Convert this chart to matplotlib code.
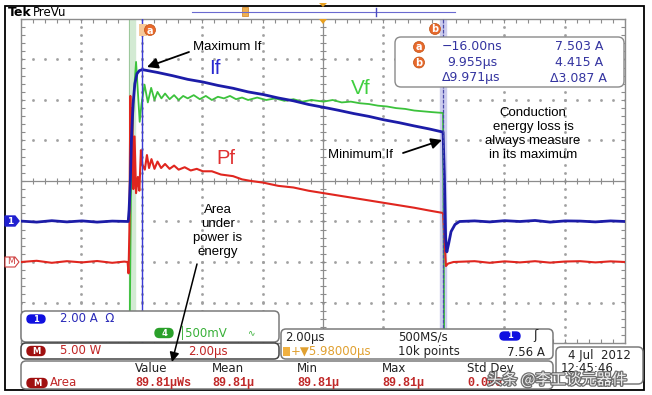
import matplotlib.pyplot as plt
import matplotlib.patheffects as pe
from matplotlib.patches import FancyBboxPatch, Rectangle, Polygon, Circle
from matplotlib.collections import LineCollection
import numpy as np

# scope settings
t_left, t_right = -4.02, 15.98          # µs, 2 µs/div, centre 5.98 µs
ch1_a_per_div, ch1_pos = 2.0, -1.0      # If, A/div, divisions
math_w_per_div, math_pos = 5.0, -2.0    # Pf, W/div
ch4_v_per_div, ch4_pos = 0.5, -1.2      # Vf, V/div
cursor_a_t, cursor_b_t = -0.016, 9.955

# ch1 : forward current If (A)
if_t = [-4.02, -3.5, -3.0, -2.5, -2.0, -1.5, -1.0, -0.47, -0.44, -0.40, -0.36, -0.31,
        -0.25, -0.18, -0.10, 0.0, 0.5, 1.0, 1.5, 2.0, 2.5, 3.0, 3.5, 4.0, 4.5, 5.0, 5.5,
        6.0, 6.5, 7.0, 7.5, 8.0, 8.5, 9.0, 9.5, 9.955, 10.00, 10.04, 10.08, 10.14, 10.22,
        10.35, 10.5, 11.0, 11.5, 12.0, 12.5, 13.0, 13.5, 14.0, 14.5, 15.0, 15.5, 15.98]
if_a = [0.02, -0.03, 0.04, -0.02, 0.03, -0.03, 0.02, 0.0, 0.6, 2.0, 4.2, 5.8,
        6.8, 7.3, 7.45, 7.50, 7.36, 7.20, 7.02, 6.89, 6.72, 6.58, 6.40, 6.27, 6.10, 5.96, 5.78,
        5.64, 5.49, 5.33, 5.19, 5.02, 4.88, 4.72, 4.57, 4.415, 2.2, -0.8, -1.5, -1.1, -0.5,
        -0.15, 0.0, 0.03, -0.02, 0.04, 0.0, 0.05, -0.03, 0.03, 0.02, -0.02, 0.03, 0.0]

# math : power Pf (W)
pf_t = [-4.02, -3.5, -3.0, -2.5, -2.0, -1.5, -1.0, -0.6, -0.49, -0.46, -0.43, -0.40, -0.37,
        -0.34, -0.30, -0.26, -0.21, -0.15, -0.10, -0.05, 0.0, 0.08, 0.15, 0.22, 0.30, 0.40,
        0.50, 0.62, 0.75, 0.90, 1.05, 1.2, 1.4, 1.6, 1.8, 2.0, 2.3, 2.6, 3.0, 3.3, 3.6, 4.0,
        4.5, 5.0, 5.5, 6.0, 6.5, 7.0, 7.5, 8.0, 8.5, 9.0, 9.5, 9.955, 10.00, 10.05, 10.12,
        10.3, 11.0, 11.5, 12.0, 12.5, 13.0, 13.5, 14.0, 14.5, 15.0, 15.5, 15.98]
pf_w = [0.0, 0.15, -0.1, 0.1, -0.05, 0.12, -0.1, 0.05, 0.0, -1.4, 4.0, 20.5, 12.0,
        19.0, 9.0, 15.5, 8.5, 10.5, 8.8, 13.8, 12.0, 11.4, 13.2, 11.6, 12.7, 11.5,
        12.4, 11.6, 12.1, 11.5, 11.9, 11.4, 11.7, 11.3, 11.5, 11.2, 11.2, 10.8, 10.6, 10.2, 10.0, 9.8,
        9.4, 9.2, 8.8, 8.5, 8.2, 7.9, 7.6, 7.3, 7.0, 6.7, 6.35, 6.05, 3.0, -0.5, -0.2,
        0.0, 0.1, -0.1, 0.08, -0.05, 0.1, -0.08, 0.06, 0.1, -0.05, 0.08, 0.0]

# ch4 : forward voltage Vf (V)
vf_t = [-4.02, -0.45, -0.42, -0.38, -0.33, -0.27, -0.21, -0.15, -0.09, -0.03, 0.07, 0.18,
        0.29, 0.40, 0.50, 0.63, 0.75, 0.9, 1.05, 1.2, 1.35, 1.5, 1.7, 1.9, 2.1, 2.3, 2.5,
        2.7, 2.9, 3.1, 3.3, 3.5, 3.8, 4.1, 4.4, 4.7, 5.0, 5.3, 5.6, 6.0, 6.3, 6.6, 6.9,
        7.2, 7.5, 7.8, 8.1, 8.4, 8.7, 9.0, 9.3, 9.6, 9.955, 10.0, 10.03, 15.98]
vf_v = [-6.0, -6.0, -1.2, 0.4, 1.2, 1.75, 2.07, 1.70, 1.33, 1.55, 1.79, 1.57,
        1.75, 1.60, 1.70, 1.62, 1.68, 1.61, 1.66, 1.60, 1.65, 1.62, 1.66, 1.61, 1.65, 1.60, 1.64,
        1.62, 1.65, 1.61, 1.63, 1.60, 1.63, 1.60, 1.62, 1.59, 1.61, 1.58, 1.60, 1.58, 1.60, 1.57, 1.58,
        1.56, 1.55, 1.53, 1.52, 1.50, 1.49, 1.47, 1.46, 1.45, 1.44, -2.0, -6.0, -6.0]

cursor_rows = [("a", "\u221216.00ns", "7.503 A"),
               ("b", "9.955\u00b5s", "4.415 A"),
               ("", "\u03949.971\u00b5s", "\u03943.087 A")]
meas_headers = ["Value", "Mean", "Min", "Max", "Std Dev"]
meas_values = ["89.81\u00b5Ws", "89.81\u00b5", "89.81\u00b5", "89.81\u00b5", "0.000"]

BLUE = "#1c1ca8"
RED = "#e0261f"
GREEN = "#3cc23c"
ORANGE = "#e8692c"
RO = "#3434a0"

fig = plt.figure(figsize=(6.52, 3.95), dpi=100)
W, H = 652, 395
gx0, gx1, gy0, gy1 = 21, 625, 19, 343
ax = fig.add_axes([gx0 / W, 1 - gy1 / H, (gx1 - gx0) / W, (gy1 - gy0) / H])
ax.set_xlim(t_left, t_right)
ax.set_ylim(-4, 4)
ax.set_xticks([])
ax.set_yticks([])
for s in ax.spines.values():
    s.set_color("#8c8c8c")
    s.set_linewidth(1.0)

# graticule
tc = (t_left + t_right) / 2
dots_y = np.arange(-4, 4.01, 0.2)
dots_x = np.arange(t_left, t_right + 0.01, 0.4)
for k in range(1, 10):
    if k != 5:
        ax.plot(np.full_like(dots_y, t_left + 2 * k), dots_y, ls="none", marker="s",
                ms=0.9, color="#a0a0a0", zorder=1)
for k in range(-3, 4):
    if k != 0:
        ax.plot(dots_x, np.full_like(dots_x, k), ls="none", marker="s",
                ms=0.9, color="#a0a0a0", zorder=1)
ax.axvline(tc, color="#8c8c8c", lw=0.9, zorder=1)
ax.axhline(0, color="#8c8c8c", lw=0.9, zorder=1)
segs = []
for x in dots_x:
    segs += [[(x, -0.08), (x, 0.08)], [(x, 4), (x, 3.9)], [(x, -4), (x, -3.9)]]
for y in dots_y:
    segs += [[(tc - 0.1, y), (tc + 0.1, y)], [(t_left, y), (t_left + 0.13, y)],
             [(t_right, y), (t_right - 0.13, y)]]
ax.add_collection(LineCollection(segs, colors="#8c8c8c", linewidths=0.8, zorder=1))

# edge band and cursors
ax.axvspan(-0.45, -0.26, color="#d3ead3", zorder=1.5)
ax.axvline(-0.45, color="#9cc79c", lw=0.7, zorder=1.6)
ax.axvspan(cursor_b_t - 0.1, cursor_b_t + 0.1, color="#cdcdee", zorder=1.5)
ax.axvline(cursor_a_t, color="#3b3bd6", lw=1.0, zorder=6)
ax.axvline(cursor_b_t, color="#4a4aa8", lw=0.9, ls=(0, (3, 1)), zorder=6)

# traces
ax.plot(vf_t, np.array(vf_v) / ch4_v_per_div + ch4_pos, color=GREEN, lw=1.3, zorder=3)
ax.plot(pf_t, np.array(pf_w) / math_w_per_div + math_pos, color=RED, lw=1.5, zorder=4)
ax.plot(if_t, np.array(if_a) / ch1_a_per_div + ch1_pos, color=BLUE, lw=2.0, zorder=5)

# overlay in pixel coordinates
ov = fig.add_axes([0, 0, 1, 1], zorder=10)
ov.set_xlim(0, W)
ov.set_ylim(H, 0)
ov.axis("off")
ov.patch.set_alpha(0)

ov.add_patch(Rectangle((5, 6), 639, 384, fill=False, ec="black", lw=1.3))
ov.text(8, 13, "Tek", fontsize=9, fontweight="bold", va="center")
ov.text(33, 12.5, "PreVu", fontsize=8.5, va="center")
ov.plot([192, 455], [12, 12], color="#6a6ad0", lw=0.8)
ov.add_patch(Rectangle((242, 7), 6, 9, fc="#f0b050", ec="#d08020", lw=0.5))
ov.plot([376, 376], [8, 16], color="#4a4ac0", lw=1)
ov.add_patch(Polygon([[319, 19], [327, 19], [323, 24]], fc="#e8a020", ec="none"))
ov.add_patch(Polygon([[319, 3], [327, 3], [323, 7]], fc="#e8a020", ec="none"))


def marker(x, y, lab):
    ov.add_patch(Circle((x, y), 5.5, fc=ORANGE, ec="#c05010", lw=0.5))
    ov.text(x, y + 0.5, lab, color="white", fontsize=7, fontweight="bold",
            ha="center", va="center")


ov.add_patch(Rectangle((139, 24), 8, 12, fc="#f6c89a", ec="none"))
marker(150, 30, "a")
marker(435, 29, "b")

# channel position markers
ov.add_patch(Polygon([[5, 216], [15, 216], [19, 221], [15, 226], [5, 226]],
                     fc="#2020d0", ec="#2020d0"))
ov.text(10, 221, "1", color="white", fontsize=6.5, ha="center", va="center", fontweight="bold")
ov.add_patch(Polygon([[5, 257], [15, 257], [19, 262], [15, 267], [5, 267]],
                     fc="white", ec="#d04040", lw=0.8))
ov.text(11, 262, "M", color="#d04040", fontsize=6.5, ha="center", va="center")

# annotations
arrow = dict(arrowstyle="-|>", mutation_scale=16, lw=1.3, color="black", shrinkA=0, shrinkB=0)
ov.text(193, 47, "Maximum If", fontsize=9.5, family="Liberation Sans", va="center")
ov.annotate("", xy=(147, 67), xytext=(189, 52), arrowprops=arrow)
ov.text(209, 68, "If", fontsize=15, color="#2a2ad0", family="Liberation Sans", va="center")
ov.text(351, 88, "Vf", fontsize=15, color="#3fcf3f", family="Liberation Sans", va="center")
ov.text(216, 159, "Pf", fontsize=14.5, color="#e03030", family="Liberation Sans", va="center")
ov.text(328, 155, "Minimum If", fontsize=9.5, family="Liberation Sans", va="center")
ov.annotate("", xy=(442, 140), xytext=(403, 153), arrowprops=arrow)
ov.text(533, 134, "Conduction\nenergy loss is\nalways measure\nin its maximum",
        fontsize=9.5, family="Liberation Sans", ha="center", va="center", linespacing=1.2)
ov.text(218, 231, "Area\nunder\npower is\nenergy",
        fontsize=9.5, family="Liberation Sans", ha="center", va="center", linespacing=1.2)

# cursor readout
ov.add_patch(FancyBboxPatch((395, 37), 229, 50, boxstyle="round,pad=0,rounding_size=6",
                            fc="white", ec="#8a8a8a", lw=1))
for i, (lab, tv, av) in enumerate(cursor_rows):
    y = 47 + i * 15.5
    if lab:
        marker(419, y, lab)
    ov.text(442 if lab != "b" else 447, y, tv, color=RO, fontsize=9, va="center")
    ov.text(555 if not av.startswith("\u0394") else 550, y, av, color=RO, fontsize=9, va="center")


def box(x, y, w, h, ec="#7a7a7a"):
    ov.add_patch(FancyBboxPatch((x, y), w, h, boxstyle="round,pad=0,rounding_size=5",
                                fc="white", ec=ec, lw=1.1))


def pill(x, y, w, h, fc, lab):
    ov.add_patch(FancyBboxPatch((x - w / 2, y - h / 2), w, h,
                                boxstyle=f"round,pad=0,rounding_size={h / 2}", fc=fc, ec=fc))
    ov.text(x, y, lab, color="white", fontsize=6, ha="center", va="center", fontweight="bold")


box(21, 311, 258, 31)
box(21, 343, 258, 16, ec="#444444")
box(281, 329, 272, 30)
box(21, 361, 532, 28)
box(556, 347, 87, 37)

pill(36, 319, 18, 8, "#1010e0", "1")
ov.text(60, 319, "2.00 A  \u03a9", color="#2a2ab8", fontsize=8.5, va="center")
pill(164, 333, 18, 9, "#2aa02a", "4")
ov.text(179, 333, "\u2502500mV", color="#38b038", fontsize=8.5, va="center")
ov.text(247, 333, "\u223f", color="#38b038", fontsize=6.5, va="center")
pill(36, 351, 18, 9, "#a01010", "M")
ov.text(60, 351, "5.00 W", color="#c02424", fontsize=8.5, va="center")
ov.text(188, 351, "2.00\u00b5s", color="#c02424", fontsize=8.5, va="center")

ov.text(285, 337, "2.00\u00b5s", color="#222222", fontsize=8.5, va="center")
ov.text(398, 337, "500MS/s", color="#222222", fontsize=8.5, va="center")
pill(510, 336, 20, 8, "#1010e0", "1")
ov.text(533, 336, "\u0283", color="#222222", fontsize=9, va="center")
ov.add_patch(Rectangle((283, 347), 7, 9, fc="#f0b040", ec="none"))
ov.text(291, 352, "+\u25bc5.98000\u00b5s", color="#e0a030", fontsize=8.5, va="center")
ov.text(398, 352, "10k points", color="#222222", fontsize=8.5, va="center")
ov.text(507, 352, "7.56 A", color="#222222", fontsize=8.5, va="center")

mx = [135, 212, 297, 382, 467]
for x, hd, v in zip(mx, meas_headers, meas_values):
    ov.text(x, 369, hd, color="#222222", fontsize=8.5, va="center")
    ov.text(x, 383, v, color="#c02828", fontsize=8.5, va="center",
            family="Liberation Mono", fontweight="bold")
pill(37, 383, 20, 9, "#a01010", "M")
ov.text(50, 383, "Area", color="#c02828", fontsize=8.5, va="center")

ov.text(568, 355, "4 Jul  2012", color="#222222", fontsize=8.5, va="center")
ov.text(561, 369, "12:45:46", color="#222222", fontsize=8.5, va="center")

# watermark
ov.text(487, 380, "头条 @李工谈元器件", fontsize=11, color="white", va="center",
        family=["Noto Sans CJK SC", "DejaVu Sans"], alpha=0.9,
        path_effects=[pe.withStroke(linewidth=1.8, foreground="#606060")])

ov.plot([138, 172], [265, 362], alpha=0)  # keep limits untouched
ov.annotate("", xy=(172, 362), xytext=(197, 264),
            arrowprops=dict(arrowstyle="-|>", mutation_scale=14, lw=1.1, color="black",
                            shrinkA=0, shrinkB=0))

fig.savefig("out.png", dpi=100)
